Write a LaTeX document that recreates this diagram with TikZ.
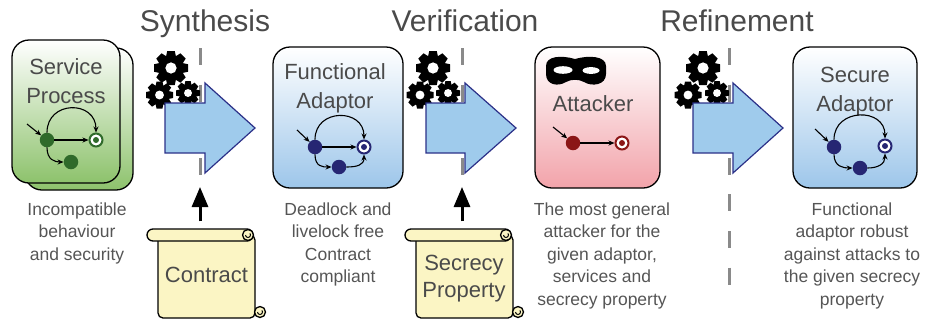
\documentclass[tikz,border=0pt]{standalone}
\usepackage{fontspec}
\setmainfont{Liberation Sans}
\usetikzlibrary{arrows.meta}

\definecolor{txtgray}{HTML}{4A4A4A}
\definecolor{descgray}{HTML}{555555}
\definecolor{procgreen}{HTML}{8DC26C}
\definecolor{adaptblue}{HTML}{9DC6EA}
\definecolor{attackpink}{HTML}{F2A3AA}
\definecolor{stgreen}{HTML}{2F6A2A}
\definecolor{stblue}{HTML}{262673}
\definecolor{stred}{HTML}{8B1616}
\definecolor{arrowfill}{HTML}{9FCBEC}
\definecolor{arrowline}{HTML}{2B3088}
\definecolor{scrollfill}{HTML}{FBF5C4}
\definecolor{dashgray}{HTML}{8A8A8A}

% a black cog: centre x, centre y, outer radius
\newcommand{\cogwheel}[3]{%
  \fill[black] (#1,#2) circle[radius={#3*0.7pt}];
  \foreach \a in {0,45,...,315}
    \fill[black, shift={(#1,#2)}, rotate=\a]
      (-0.33*#3,0.5*#3) -- (0.33*#3,0.5*#3) -- (0.22*#3,#3) -- (-0.22*#3,#3) -- cycle;
  \fill[white] (#1,#2) circle[radius={#3*0.33pt}];
}

\tikzset{
  scrollbody/.pic={
    \filldraw[draw=black, fill=scrollfill, line width=1.3pt, rounded corners=5pt] (11,6) rectangle (108,89);
    \filldraw[draw=black, fill=scrollfill, line width=1.3pt] (113,83) circle (5.5pt);
    \draw[line width=1pt] (110.5,83) arc[start angle=180, end angle=400, radius=2.5pt];
  },
  rollcurl/.pic={
    \filldraw[draw=black, fill=scrollfill, line width=1.3pt] (101,6) circle (5.5pt);
    \draw[line width=1pt] (98.5,6) arc[start angle=180, end angle=400, radius=2.5pt];
  }
}

\begin{document}
\begin{tikzpicture}[x=1pt, y=-1pt,
  card/.style={draw=black, line width=1.3pt, rounded corners=17pt, inner sep=0pt},
  cardtitle/.style={text=txtgray, align=center, inner sep=0pt, anchor=north,
    font=\fontsize{22pt}{29pt}\selectfont},
  desc/.style={text=descgray, align=center, inner sep=0pt, anchor=north,
    font=\fontsize{17.5pt}{22.5pt}\selectfont},
  heading/.style={text=txtgray, inner sep=0pt, anchor=base,
    font=\fontsize{30pt}{36pt}\selectfont},
  st/.style={circle, fill=#1, minimum size=14.5pt, inner sep=0pt},
  fin/.style={circle, draw=#1, fill=white, line width=2pt, minimum size=13pt, inner sep=0pt,
    path picture={\fill[#1] (path picture bounding box.center) circle (3pt);}},
  tr/.style={draw=black, line width=1.1pt, -{Stealth[length=6pt,width=5pt]}},
  stage/.style={fill=arrowfill, draw=arrowline, line width=1.2pt, line join=miter},
  divider/.style={draw=dashgray, line width=3pt, dash pattern=on 17pt off 19.6pt},
  feed/.style={draw=black, line width=3pt, -{Triangle[length=20pt,width=16pt]}},
  roll/.style={draw=black, fill=scrollfill, line width=1.3pt, rounded corners=6pt,
    minimum width=106pt, minimum height=12pt, inner sep=0pt},
  scrolltext/.style={text=txtgray, align=center, inner sep=0pt,
    font=\fontsize{22pt}{27pt}\selectfont},
]
\useasboundingbox (0,0) rectangle (925,322);

% phase dividers
\coordinate (synTop) at (200,48);  \coordinate (synBot) at (200,175);
\coordinate (verTop) at (462,48);  \coordinate (verBot) at (462,175);
\coordinate (refTop) at (729,48);  \coordinate (refBot) at (729,285);
\draw[divider] (synTop) -- (synBot);
\draw[divider] (verTop) -- (verBot);
\draw[divider] (refTop) -- (refBot);

% cogs
\cogwheel{171}{68}{17}\cogwheel{159.5}{95}{13.5}\cogwheel{188}{93}{12}
\cogwheel{433}{68}{17}\cogwheel{420}{95}{13.5}\cogwheel{448}{93}{12}
\cogwheel{703}{68}{17}\cogwheel{688}{95}{13.5}\cogwheel{717}{93}{12}

% stage arrows
\draw[stage] (165,103) -- (205,103) -- (205,83) -- (255,128) -- (205,173) -- (205,153) -- (165,153) -- cycle;
\draw[stage] (426,103) -- (465,103) -- (465,83) -- (516,128) -- (465,173) -- (465,153) -- (426,153) -- cycle;
\draw[stage] (693,103) -- (733,103) -- (733,83) -- (783,128) -- (733,173) -- (733,153) -- (693,153) -- cycle;

% headings
\node[heading] (hsyn) at (205,31) {Synthesis};
\node[heading] (hver) at (465,31) {Verification};
\node[heading] (href) at (737,31) {Refinement};

% service process (stacked cards)
\node[card, top color=white, bottom color=procgreen, minimum width=108pt, minimum height=142pt] (procback) at (79,119) {};
\node[card, top color=white, bottom color=procgreen, minimum width=108pt, minimum height=143pt] (proc) at (66,111.5) {};
\node[cardtitle] (proctitle) at (66,53.7) {\strut Service\\Process};
\node[st=stgreen] (p0) at (47,140) {};
\node[fin=stgreen] (pf) at (96,140) {};
\node[st=stgreen] (p1) at (71,162) {};
\coordinate (pin) at (27,124);
\draw[tr] (pin) -- (p0);
\draw[tr] (p0) -- (pf);
\draw[tr] (p0) .. controls +(0,-40) and +(0,-40) .. (pf);
\draw[tr] (p0) .. controls +(0,20) and +(-16,0) .. (p1);

% functional adaptor
\node[card, top color=white, bottom color=adaptblue, minimum width=130pt, minimum height=141pt] (adapt) at (338,117.5) {};
\node[cardtitle] (adtitle) at (335,58.7) {\strut Functional\\Adaptor};
\node[st=stblue] (a0) at (315,147) {};
\node[fin=stblue] (af) at (364,147) {};
\node[st=stblue] (a1) at (339,167) {};
\coordinate (ain) at (297,130);
\draw[tr] (ain) -- (a0);
\draw[tr] (a0) -- (af);
\draw[tr] (a0) .. controls +(0,-39) and +(0,-39) .. (af);
\draw[tr] (a0) .. controls +(0,20) and +(-16,0) .. (a1);
\draw[tr] (a1) .. controls +(18,0) and +(0,18) .. (af);

% attacker
\node[card, top color=white, bottom color=attackpink, minimum width=125pt, minimum height=141pt] (attack) at (597.5,117.5) {};
\fill[black] (546,66) .. controls (546,56) and (561,55) .. (575,59)
  .. controls (589,55) and (606,56) .. (606,66) -- (606,74)
  .. controls (606,85) and (592,87) .. (584,82)
  .. controls (579,79) and (571,79) .. (566,82)
  .. controls (558,87) and (546,85) .. (546,74) -- cycle;
\fill[white] (563,70) ellipse[x radius=9.5pt, y radius=3.8pt];
\fill[white] (591,70.5) ellipse[x radius=8.5pt, y radius=3.4pt];
\node[cardtitle, anchor=base] (attitle) at (593,111) {Attacker};
\node[st=stred] (t0) at (573,143) {};
\node[fin=stred] (tf) at (622,143) {};
\coordinate (tin) at (553,127);
\draw[tr] (tin) -- (t0);
\draw[tr] (t0) -- (tf);

% secure adaptor
\node[card, top color=white, bottom color=adaptblue, minimum width=124pt, minimum height=141pt] (secure) at (855,117.5) {};
\node[cardtitle] (sectitle) at (855,61.7) {\strut Secure\\Adaptor};
\node[st=stblue] (s0) at (834,147) {};
\node[fin=stblue] (sf) at (885,146) {};
\node[st=stblue] (s1) at (860,168) {};
\coordinate (sin) at (815,129);
\draw[tr] (sin) -- (s0);
\draw[tr] (s0) .. controls +(0,-39) and +(0,-39) .. (sf);
\draw[tr] (s0) .. controls +(0,20) and +(-16,0) .. (s1);
\draw[tr] (s1) .. controls +(18,0) and +(0,18) .. (sf);

% descriptions
\node[desc] (procdesc) at (77,199.25) {\strut Incompatible\\behaviour\\and security};
\node[desc] (adaptdesc) at (338,199.25) {\strut Deadlock and\\livelock free\\Contract\\compliant};
\node[desc] (attackdesc) at (602,199.25) {\strut The most general\\attacker for the\\given adaptor,\\services and\\secrecy property};
\node[desc] (securedesc) at (852,199.25) {\strut Functional\\adaptor robust\\against attacks to\\the given secrecy\\property};

% scrolls
\pic at (147,229) {scrollbody};
\node[roll] (contractroll) at (200,235) {};
\pic at (147,229) {rollcurl};
\node[scrolltext, anchor=base] (contract) at (206.5,282) {Contract};

\pic at (405,229) {scrollbody};
\node[roll] (secrecyroll) at (458,235) {};
\pic at (405,229) {rollcurl};
\node[scrolltext, anchor=north] (secrecy) at (464,251.1) {\strut Secrecy\\Property};

% inputs to the phases
\coordinate (synIn) at (200,187);
\coordinate (verIn) at (462,187);
\draw[feed, shorten <=7pt] (contractroll.north) -- (synIn);
\draw[feed, shorten <=7pt] (secrecyroll.north -| verIn) -- (verIn);
\end{tikzpicture}
\end{document}
